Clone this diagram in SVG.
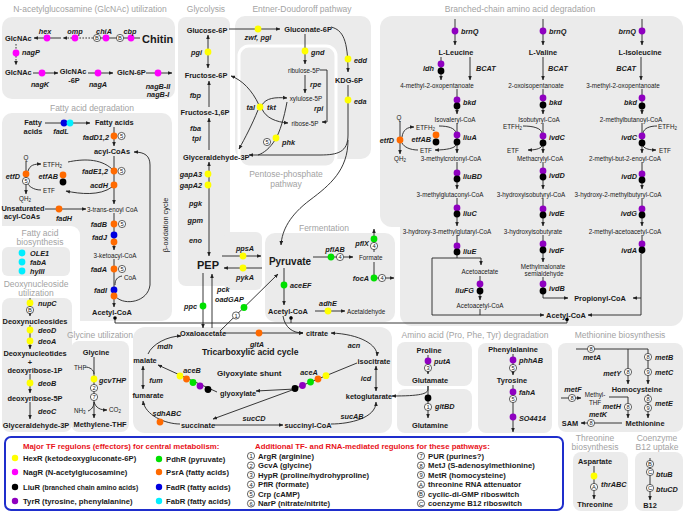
<svg xmlns="http://www.w3.org/2000/svg" width="685" height="513" viewBox="0 0 685 513">
<defs>
<marker id="a" viewBox="0 0 10 10" refX="9" refY="5" markerWidth="4.5" markerHeight="4.5" markerUnits="userSpaceOnUse" orient="auto-start-reverse"><path d="M0,1 L10,5 L0,9 z" fill="#222"/></marker>
</defs>
<style>
text{font-family:"Liberation Sans",Arial,sans-serif;dominant-baseline:central;fill:#1a1a1a}
.p{fill:#ebebeb}
.t{font-size:8.5px;fill:#a3a3a3;text-anchor:middle}
.m{font-size:7.4px;font-weight:bold}
.s{font-size:6.3px}
.g{font-size:7.3px;font-weight:bold;font-style:italic}
.L{font-size:11px;font-weight:bold}
.c{text-anchor:middle}
.e{text-anchor:end}
.ln{fill:none;stroke:#222;stroke-width:0.9}
.ar{marker-end:url(#a)}
.ab{marker-start:url(#a);marker-end:url(#a)}
.dash{stroke-dasharray:1.6 1.4}
.Y{fill:#ffff00}.M{fill:#ff00ff}.K{fill:#000}.P{fill:#8f00c0}.G{fill:#00e000}.O{fill:#ff6a00}.B{fill:#0000e0}.C{fill:#00eeff}
.cn circle{fill:#fff;stroke:#222;stroke-width:0.7}
.cn text{font-size:5.8px;text-anchor:middle}
.lg{font-size:7.7px;font-weight:bold}
.red{font-size:7.8px;font-weight:bold;fill:#e8121a}
</style>

<g id="panels">
<rect class="p" x="2" y="17" width="173" height="82" rx="10"/>
<rect class="p" x="2" y="113" width="170" height="208" rx="10"/>
<rect x="-10" y="226" width="90" height="220" rx="9" fill="#fff"/>
<rect class="p" x="2" y="247" width="68" height="29" rx="6"/>
<rect class="p" x="2" y="298" width="70" height="134" rx="8"/>
<rect class="p" x="178" y="17" width="52" height="269" rx="8"/>
<rect class="p" x="224" y="232" width="38" height="58" rx="6"/>
<rect class="p" x="235" y="16" width="136" height="143" rx="10"/>
<rect class="p" x="239" y="46" width="97" height="121" rx="10" stroke="#fff" stroke-width="3"/>
<rect class="p" x="380" y="16" width="303" height="211" rx="12"/>
<rect class="p" x="400" y="150" width="283" height="176" rx="12"/>
<rect class="p" x="265" y="233" width="130" height="89" rx="10"/>
<rect class="p" x="133" y="327" width="259" height="106" rx="12"/>
<rect class="p" x="71" y="341" width="58" height="91" rx="8"/>
<rect class="p" x="397" y="342" width="75" height="44" rx="8"/>
<rect class="p" x="397" y="389" width="75" height="44" rx="8"/>
<rect class="p" x="478" y="343" width="74" height="90" rx="8"/>
<rect class="p" x="558" y="343" width="125" height="89" rx="8"/>
<rect class="p" x="573" y="452" width="55" height="59" rx="8"/>
<rect class="p" x="635" y="452" width="48" height="59" rx="8"/>
<rect x="5" y="437" width="558" height="73" rx="6" fill="#fff" stroke="#1f2ecc" stroke-width="2"/>
</g>

<g id="titles">
<text class="t" x="90" y="8.5">N-acetylglucosamine (GlcNAc) utilization</text>
<text class="t" x="206" y="8.5">Glycolysis</text>
<text class="t" x="302" y="8.5">Entner-Doudoroff pathway</text>
<text class="t" x="520" y="9">Branched-chain amino acid degradation</text>
<text class="t" x="92" y="108">Fatty acid degradation</text>
<text class="t" x="286" y="174">Pentose-phosphate</text>
<text class="t" x="286" y="184">pathway</text>
<text class="t" x="324" y="228">Fermentation</text>
<text class="t" x="40" y="233">Fatty acid</text>
<text class="t" x="40" y="242">biosynthesis</text>
<text class="t" x="36" y="284">Deoxynucleoside</text>
<text class="t" x="36" y="293">utilization</text>
<text class="t" x="100" y="335">Glycine utilization</text>
<text class="t" x="475" y="335">Amino acid (Pro, Phe, Tyr) degradation</text>
<text class="t" x="620" y="335">Methionine biosynthesis</text>
<text class="t" x="595" y="438">Threonine</text>
<text class="t" x="595" y="447">biosynthesis</text>
<text class="t" x="657" y="438">Coenzyme</text>
<text class="t" x="657" y="447">B12 uptake</text>
</g>

<g id="connectors">
<path class="ln ar" d="M61,38 H34"/>
<path class="ln ar dash" d="M93,38 H63"/>
<path class="ln" d="M140,38 H97"/>
<path class="ln ar dash" d="M16,44 V65"/>
<path class="ln ar" d="M33,73 H58"/>
<path class="ln ar" d="M88,73 H113"/>
<path class="ln ar" d="M146,73 H172"/>
<path class="ln ar" d="M45,123 H90"/>
<path class="ln ar" d="M114,127 V146"/>
<path class="ln ar" d="M114,156 V204"/>
<path class="ln ar" d="M26,161 V194"/>
<path class="ln ar" d="M28,171 C30,165 34,164 41,164"/>
<path class="ln" d="M41,190 C33,190 29,186 27,183"/>
<path class="ln" d="M112,169 C100,158 82,159 68,162"/>
<path class="ln ar" d="M112,187 C100,196 80,194 66,191"/>
<path class="ln ar" d="M45,209 H86"/>
<path class="ln ar" d="M114,213 V250"/>
<path class="ln ar" d="M114,259 V307"/>
<path class="ln" d="M122,276 C117,277 115,280 115,285"/>
<path class="ln ar" d="M116,297 C125,306 148,302 150,285 L150,165 C150,156 145,152 134,152"/>
<path class="ln" d="M115,317 V323 H567 V318"/>
<path class="ln" d="M291,323 V316"/>
<path class="ln ar" d="M30,298 V316"/>
<path class="ln ar" d="M30,325 V349"/>
<path class="ln ar" d="M30,374 V393"/>
<path class="ln ar" d="M30,402 V419"/>
<path class="ln ar" d="M94,357 V418"/>
<path class="ln" d="M85,367 C90,367 94,370 94,374"/>
<path class="ln" d="M94,402 C94,407 91,410 88,411"/>
<path class="ln ar" d="M94,402 C96,408 100,410 107,410"/>
<path class="ln ab" d="M208,35 V68"/>
<path class="ln ar" d="M209,107 V81"/>
<path class="ln ar" d="M209,150 V118"/>
<path class="ln ab" d="M209,162 V256"/>
<path class="ln ar" d="M222,256 H261"/>
<path class="ln ar" d="M262,268 H224"/>
<path class="ln ar" d="M203,273 V328"/>
<path class="ln ar" d="M212,328 V274"/>
<path class="ln ar" d="M220,331 L278,274"/>
<path class="ln ar" d="M229,29 H280"/>
<path class="ln ar" d="M305,34 V64"/>
<path class="ln ar" d="M305,75 V93"/>
<path class="ln ar" d="M320,70 H327 V122 H322"/>
<path class="ln ar" d="M259,105 C252,90 242,80 231,76"/>
<path class="ln ar" d="M262,105 C266,98 275,97 287,98"/>
<path class="ln ar" d="M262,109 C266,118 276,122 288,123"/>
<path class="ln ar" d="M258,110 C252,125 245,138 239,149"/>
<path class="ln" d="M287,102 C284,118 280,132 275,140 C270,148 264,153 258,155"/>
<path class="ln ar" d="M331,27 C343,30 348,40 348,72"/>
<path class="ln ar" d="M348,85 V135 C348,152 338,155 320,155 H249"/>
<path class="ln ar" d="M348,140 C348,170 330,185 310,200 C290,215 282,230 281,245"/>
<path class="ln ar" d="M284,268 V305"/>
<path class="ln ar" d="M313,257 H353"/>
<path class="ln ar" d="M374,252 V229"/>
<path class="ln ar" d="M374,262 V278 H394"/>
<path class="ln ar" d="M315,311 H345"/>
<path class="ln ar" d="M283,316 C285,328 293,333 303,333"/>
<path class="ln ar" d="M224,333 H303"/>
<path class="ln ar" d="M148,354 C152,344 168,336 181,336"/>
<path class="ln ab" d="M143,366 V389"/>
<path class="ln ar" d="M180,424 C165,424 145,415 143,401"/>
<path class="ln ar" d="M214,425 H283"/>
<path class="ln ar" d="M331,424 C350,424 376,418 376,402"/>
<path class="ln ab" d="M376,366 V391"/>
<path class="ln ab" d="M377,356 C378,345 360,334 331,333"/>
<path class="ln ar" d="M217,392 L158,365"/>
<path class="ln" d="M357,363 L296,388"/>
<path class="ln ar" d="M295,389 L256,391"/>
<path class="ln ar" d="M295,389 L213,419"/>
<path class="ln ar" d="M428,355 V374"/>
<path class="ln ar" d="M428,386 V389 C428,394 420,396 392,396"/>
<path class="ln ar" d="M428,386 V418"/>
<path class="ln ar" d="M513,354 V375"/>
<path class="ln ar" d="M513,385 V432"/>
<path class="ln ar" d="M576,349 H648 V384"/>
<path class="ln ar" d="M628,349 V384"/>
<path class="ln ar" d="M561,398 H581"/>
<path class="ln ar" d="M609,397 H628 V418"/>
<path class="ln ar" d="M648,394 V418"/>
<path class="ln ar" d="M622,423 H581"/>
<path class="ln ar" d="M594,466 V499"/>
<path class="ln ar" d="M650,458 V500"/>
<path class="ln ar" d="M455,19 V45"/>
<path class="ln ar" d="M441,57 V80"/>
<path class="ln ar" d="M470,57 V80"/>
<path class="ln ar" d="M457,89 V114"/>
<path class="ln ar" d="M457,123 V153"/>
<path class="ln ar" d="M400,121 V154"/>
<path class="ln ar" d="M402,137 C403,130 407,127 414,127"/>
<path class="ln" d="M418,150 C410,150 404,147 402,143"/>
<path class="ln" d="M439,126 C448,126 455,128 456,133"/>
<path class="ln ar" d="M456,145 C455,148 447,150 435,150"/>
<path class="ln ar" d="M457,162 V189"/>
<path class="ln ar" d="M457,198 V226"/>
<path class="ln" d="M457,235 V258"/>
<path class="ln ar" d="M432,258 H481 V265"/>
<path class="ln ar" d="M432,258 V315 H544"/>
<path class="ln ar" d="M480,276 V300"/>
<path class="ln" d="M480,309 V315"/>
<path class="ln ar" d="M543,19 V45"/>
<path class="ln ar" d="M543,57 V80"/>
<path class="ln ar" d="M543,89 V114"/>
<path class="ln ar" d="M543,123 V153"/>
<path class="ln" d="M523,126 C533,126 541,128 542,133"/>
<path class="ln ar" d="M542,146 C540,149 535,150 528,150"/>
<path class="ln ar" d="M543,162 V189"/>
<path class="ln ar" d="M543,198 V226"/>
<path class="ln ar" d="M543,235 V262"/>
<path class="ln ar" d="M543,277 V298 H568"/>
<path class="ln ar" d="M642,19 V45"/>
<path class="ln ar" d="M641,57 V80"/>
<path class="ln ar" d="M642,89 V114"/>
<path class="ln ar" d="M642,123 V153"/>
<path class="ln" d="M657,126 C650,126 644,128 643,133"/>
<path class="ln ar" d="M643,146 C645,149 650,150 656,150"/>
<path class="ln ar" d="M642,162 V189"/>
<path class="ln ar" d="M642,198 V226"/>
<path class="ln ar" d="M641,254 V315 H588"/>
<path class="ln ar" d="M641,298 H633"/>
<path class="ln" d="M642,235 V254"/>
</g>

<g id="glcnac">
<text class="m" x="5" y="38">GlcNAc</text>
<circle class="M" cx="47" cy="38" r="3.4"/><text class="g c" x="45" y="31">hex</text>
<circle class="M" cx="75" cy="38" r="3.4"/><text class="g c" x="75" y="31">omp</text>
<g class="cn"><circle cx="97" cy="38" r="3.6"/><text x="97" y="38">B</text></g>
<circle class="M" cx="106" cy="38" r="3.4"/><text class="g c" x="104" y="31">chiA</text>
<g class="cn"><circle cx="120" cy="38" r="3.6"/><text x="120" y="38">B</text></g>
<circle class="M" cx="131" cy="38" r="3.4"/><text class="g c" x="130" y="31">cbp</text>
<text x="142" y="39" font-size="11" font-weight="bold">Chitin</text>
<circle class="M" cx="16" cy="53" r="3.4"/><text class="g" x="22" y="52">nagP</text>
<text class="m" x="5" y="72">GlcNAc</text>
<circle class="M" cx="42" cy="73" r="3.4"/><text class="g c" x="40" y="84">nagK</text>
<text class="m c" x="73" y="71">GlcNAc</text><text class="m c" x="74" y="80">-6P</text>
<circle class="M" cx="98" cy="73" r="3.4"/><text class="g c" x="98" y="84">nagA</text>
<text class="m" x="117" y="72">GlcN-6P</text>
<circle class="M" cx="158" cy="73" r="3.4"/><text class="g c" x="158" y="86">nagB-II</text><text class="g c" x="158" y="94">nagB-I</text>
</g>

<g id="fatty-acid-degradation">
<text class="m c" x="33" y="122">Fatty</text><text class="m c" x="33" y="131">acids</text>
<circle class="B" cx="64" cy="123" r="3.4"/><circle class="C" cx="70" cy="123" r="3.4"/>
<text class="g c" x="61" y="131">fadL</text>
<text class="m" x="95" y="122">Fatty acids</text>
<text class="g e" x="109" y="137">fadD1,2</text>
<circle class="O" cx="114" cy="136" r="3.4"/>
<g class="cn"><circle cx="121.5" cy="136" r="3.6"/><text x="121.5" y="136">5</text></g>
<text class="m c" x="112" y="151">acyl-CoAs</text>
<text class="s c" x="26" y="157">Q</text>
<circle class="O" cx="26" cy="174" r="3.4"/>
<g class="cn"><circle cx="26" cy="181" r="3.6"/><text x="26" y="181">5</text></g>
<text class="g e" x="20" y="176">etfD</text>
<text class="s c" x="25" y="198">QH<tspan font-size="4.5" dy="1.5">2</tspan></text>
<text class="s" x="43" y="164" font-size="6.6">ETFH<tspan font-size="4.5" dy="1.5">2</tspan></text>
<text class="s" x="43" y="190" font-size="6.6">ETF</text>
<circle class="O" cx="63" cy="175" r="3.4"/><circle class="K" cx="63" cy="182" r="3.4"/>
<text class="g e" x="58" y="176">etfAB</text>
<circle class="O" cx="114" cy="171" r="3.4"/>
<g class="cn"><circle cx="121.5" cy="171" r="3.6"/><text x="121.5" y="171">5</text></g>
<text class="g e" x="108" y="171">fadE1,2</text>
<circle class="O" cx="114" cy="185" r="3.4"/><text class="g e" x="108" y="185">acdH</text>
<text class="m c" x="23" y="208">Unsaturated</text><text class="m c" x="22" y="216">acyl-CoAs</text>
<circle class="O" cx="59" cy="209" r="3.4"/><text class="g c" x="64" y="218">fadH</text>
<text class="s" x="87" y="209">3-trans-enoyl CoA</text>
<circle class="O" cx="114" cy="224" r="3.4"/>
<g class="cn"><circle cx="122" cy="224" r="3.6"/><text x="122" y="224">5</text></g>
<text class="g e" x="107" y="224">fadB</text>
<circle class="B" cx="114" cy="235" r="3.4"/><circle class="O" cx="114" cy="242" r="3.4"/>
<text class="g e" x="107" y="237">fadJ</text>
<text class="s c" x="115" y="255">3-ketoacyl-CoA</text>
<circle class="O" cx="114" cy="269" r="3.4"/>
<g class="cn"><circle cx="122" cy="269" r="3.6"/><text x="122" y="269">5</text></g>
<text class="g e" x="107" y="269">fadA</text>
<text class="s" x="124" y="277" font-size="6.6">CoA</text>
<circle class="B" cx="114" cy="290" r="3.4"/><circle class="O" cx="114" cy="296" r="3.4"/>
<text class="g e" x="107" y="290">fadI</text>
<text class="m c" x="112" y="312">Acetyl-CoA</text>
<circle class="K" cx="115" cy="318" r="1.8"/>
<text x="165" y="225" font-size="7.3" text-anchor="middle" transform="rotate(-90 165 225)">β-oxidation cycle</text>
</g>

<g id="fatty-acid-biosynthesis">
<circle class="C" cx="22" cy="253" r="3.4"/><text class="g" x="30" y="253">OLE1</text>
<circle class="C" cx="22" cy="262" r="3.4"/><text class="g" x="30" y="262">fabA</text>
<circle class="C" cx="22" cy="271" r="3.4"/><text class="g" x="30" y="271">hyIII</text>
</g>

<g id="deoxynucleoside">
<circle class="Y" cx="30" cy="303" r="3.4"/><text class="g" x="38" y="303">nupC</text>
<g class="cn"><circle cx="30" cy="310" r="3.6"/><text x="30" y="310">B</text></g>
<text class="m c" x="35" y="321" font-size="6.3">Deoxynucleosides</text>
<circle class="Y" cx="30" cy="330" r="3.4"/><text class="g" x="38" y="330">deoD</text>
<circle class="Y" cx="30" cy="341" r="3.4"/><text class="g" x="38" y="341">deoA</text>
<text class="m c" x="35" y="353.5" font-size="6.3">Deoxynucleotides</text>
<text class="m c" x="30" y="362" font-size="6">+</text>
<text class="m c" x="35" y="370.5" font-size="6.3">deoxyribose-1P</text>
<circle class="Y" cx="30" cy="383" r="3.4"/><text class="g" x="38" y="383">deoB</text>
<text class="m c" x="35" y="398" font-size="6.3">deoxyribose-5P</text>
<text class="g" x="38" y="411">deoC</text>
<text class="m c" x="36" y="425" font-size="6.3">Glyceraldehyde-3P</text>
</g>

<g id="glycine">
<text class="m c" x="96" y="352">Glycine</text>
<text class="s" x="74" y="367">THF</text>
<circle class="Y" cx="94" cy="379" r="3.4"/><text class="g" x="99" y="380">gcvTHP</text>
<g class="cn"><circle cx="94" cy="388" r="3.6"/><text x="94" y="388">2</text></g>
<g class="cn"><circle cx="94" cy="397" r="3.6"/><text x="94" y="397">7</text></g>
<text class="s" x="74" y="410">NH<tspan font-size="4.5" dy="1.5">3</tspan></text>
<text class="s" x="109" y="409">CO<tspan font-size="4.5" dy="1.5">2</tspan></text>
<text class="m c" x="100" y="424" font-size="7">Methylene-THF</text>
</g>

<g id="glycolysis">
<text class="m c" x="207" y="30" font-size="7">Glucose-6P</text>
<circle class="Y" cx="208" cy="52" r="3.4"/><text class="g e" x="202" y="52">pgi</text>
<text class="m c" x="206" y="75" font-size="7">Fructose-6P</text>
<text class="g e" x="201" y="95">fbp</text>
<text class="m c" x="205" y="112" font-size="7">Fructose-1,6P</text>
<text class="g e" x="201" y="128">fba</text><text class="g e" x="201" y="138">tpi</text>
<text class="m" x="183" y="157" font-size="7">Glyceraldehyde-3P</text>
<circle class="Y" cx="208" cy="174" r="3.4"/><text class="g e" x="202" y="174">gapA3</text>
<circle class="Y" cx="208" cy="185" r="3.4"/><text class="g e" x="202" y="185">gapA2</text>
<text class="g e" x="202" y="203">pgk</text>
<text class="g e" x="203" y="220">gpm</text>
<text class="g e" x="202" y="240">eno</text>
<text class="L c" x="208" y="265">PEP</text>
<circle class="Y" cx="243" cy="256" r="3.4"/><text class="g c" x="245" y="248">ppsA</text>
<circle class="Y" cx="243" cy="268" r="3.4"/><text class="g c" x="245" y="277">pykA</text>
<circle class="G" cx="203" cy="306" r="3.4"/><text class="g e" x="197" y="306">ppc</text>
<text class="g" x="217" y="289">pck</text>
<text class="g" x="215" y="299">oadGAP</text>
<circle class="G" cx="244" cy="307.5" r="3.4"/>
<g class="cn"><circle cx="236" cy="315.5" r="3.6"/><text x="236" y="315.5">1</text></g>
</g>

<g id="entner-doudoroff">
<circle class="Y" cx="258" cy="29" r="3.4"/><text class="g c" x="258" y="37">zwf, pgl</text>
<text class="m c" x="308" y="29" font-size="7">Gluconate-6P</text>
<circle class="Y" cx="305" cy="51" r="3.4"/><text class="g" x="311" y="52">gnd</text>
<text class="s c" x="304" y="70">ribulose-5P</text>
<text class="g" x="310" y="84">rpe</text>
<text class="s c" x="306" y="98">xylulose-5P</text>
<text class="g" x="314" y="108">rpi</text>
<text class="s c" x="305" y="123">ribose-5P</text>
<circle class="Y" cx="260" cy="107" r="3.4"/>
<text class="g e" x="255" y="107">tal</text><text class="g" x="267" y="107">tkt</text>
<circle class="Y" cx="276" cy="138" r="3.4"/>
<g class="cn"><circle cx="267" cy="142" r="3.6"/><text x="267" y="142">5</text></g>
<text class="g" x="282" y="142">phk</text>
<circle class="Y" cx="348" cy="59" r="3.4"/><text class="g" x="354" y="60">edd</text>
<text class="m c" x="349" y="80" font-size="7">KDG-6P</text>
<circle class="Y" cx="348" cy="100" r="3.4"/><text class="g" x="354" y="101">eda</text>
</g>

<g id="fermentation">
<text class="c" x="290" y="261" font-size="10" font-weight="bold">Pyruvate</text>
<circle class="G" cx="284" cy="285" r="3.4"/><text class="g" x="290" y="285">aceEF</text>
<text class="m c" x="288" y="311" font-size="8">Acetyl-CoA</text>
<circle class="K" cx="291" cy="318" r="1.8"/>
<circle class="G" cx="331" cy="257" r="3.4"/>
<g class="cn"><circle cx="340" cy="257" r="3.6"/><text x="340" y="257">4</text></g>
<text class="g c" x="335" y="249">pflAB</text>
<text class="s" x="359" y="257" font-size="6.6">Formate</text>
<circle class="G" cx="374" cy="239" r="3.4"/>
<g class="cn"><circle cx="374" cy="246" r="3.6"/><text x="374" y="246">4</text></g>
<text class="g e" x="369" y="243">pflX</text>
<circle class="G" cx="374" cy="278" r="3.4"/>
<g class="cn"><circle cx="382" cy="278" r="3.6"/><text x="382" y="278">4</text></g>
<text class="g e" x="369" y="278">focA</text>
<circle class="Y" cx="328" cy="311" r="3.4"/><text class="g c" x="328" y="303">adhE</text>
<text class="s" x="347" y="311" font-size="6.6">Acetaldehyde</text>
</g>

<g id="tca">
<text class="m c" x="203" y="333" font-size="6.8">Oxaloacetate</text>
<circle class="O" cx="259" cy="333" r="3.4"/><text class="g c" x="257" y="344">gltA</text>
<text class="m c" x="317" y="333" font-size="6.8">citrate</text>
<text x="202" y="352" font-size="8.6" font-weight="bold">Tricarboxylic acid cycle</text>
<text class="g c" x="165" y="346">mdh</text>
<text class="m c" x="145" y="360" font-size="6.8">malate</text>
<text class="g c" x="156" y="380">fum</text>
<text class="m c" x="148" y="395" font-size="6.8">fumarate</text>
<circle class="O" cx="160" cy="422" r="3.4"/><text class="g c" x="167" y="413">sdhABC</text>
<text class="m c" x="198" y="425" font-size="6.8">succinate</text>
<text class="g c" x="254" y="418">sucCD</text>
<text class="m c" x="308" y="425" font-size="6.8">succinyl-CoA</text>
<text class="g c" x="352" y="416">sucAB</text>
<text class="m c" x="369" y="396" font-size="6.8">ketoglutarate</text>
<text class="g c" x="366" y="378">icd</text>
<text class="m c" x="374" y="361" font-size="6.8">isocitrate</text>
<text class="g c" x="354" y="345">acn</text>
<circle class="Y" cx="180" cy="376" r="3.4"/><circle class="O" cx="186.5" cy="379" r="3.4"/><circle class="G" cx="193" cy="382.5" r="3.4"/><circle class="P" cx="200" cy="386" r="3.4"/><circle class="K" cx="208" cy="389.5" r="3.4"/>
<text class="g c" x="192" y="370">aceB</text>
<text class="m" x="220" y="393" font-size="6.8">glyoxylate</text>
<text x="217" y="373" font-size="8" font-weight="bold">Glyoxylate shunt</text>
<circle class="Y" cx="326" cy="375.7" r="3.4"/><circle class="O" cx="318" cy="379" r="3.4"/><circle class="G" cx="310.5" cy="382" r="3.4"/><circle class="P" cx="302.5" cy="385.5" r="3.4"/><circle class="K" cx="295" cy="388.5" r="3.4"/>
<text class="g c" x="309" y="372">aceA</text>
</g>

<g id="amino-acids">
<text class="m c" x="429" y="350">Proline</text>
<circle class="P" cx="428" cy="361" r="3.4"/><text class="g" x="434" y="361">putA</text>
<g class="cn"><circle cx="428" cy="368" r="3.6"/><text x="428" y="368">3</text></g>
<text class="m c" x="430" y="380" font-size="7">Glutamate</text>
<circle class="K" cx="428" cy="398" r="3.4"/>
<g class="cn"><circle cx="428" cy="407" r="3.6"/><text x="428" y="407">1</text></g>
<text class="g" x="435" y="406">gltBD</text>
<text class="m c" x="430" y="425" font-size="7">Glutamine</text>
<text class="m c" x="513" y="349">Phenylalanine</text>
<circle class="P" cx="513" cy="360" r="3.4"/><text class="g" x="519" y="360">phhAB</text>
<g class="cn"><circle cx="513" cy="368" r="3.6"/><text x="513" y="368">5</text></g>
<text class="m c" x="512" y="380">Tyrosine</text>
<circle class="P" cx="513" cy="392" r="3.4"/><text class="g" x="519" y="392">fahA</text>
<g class="cn"><circle cx="513" cy="399" r="3.6"/><text x="513" y="399">5</text></g>
<circle class="P" cx="513" cy="417" r="3.4"/><text class="g" x="519" y="418">SO4414</text>
</g>

<g id="methionine">
<g class="cn"><circle cx="591" cy="349" r="3.6"/><text x="591" y="349">8</text></g>
<text class="g c" x="592" y="357">metA</text>
<g class="cn"><circle cx="648" cy="357" r="3.6"/><text x="648" y="357">8</text></g>
<text class="g" x="655" y="357">metB</text>
<g class="cn"><circle cx="648" cy="372" r="3.6"/><text x="648" y="372">9</text></g>
<text class="g" x="655" y="372">metC</text>
<g class="cn"><circle cx="628" cy="372" r="3.6"/><text x="628" y="372">8</text></g>
<text class="g e" x="621" y="373">metY</text>
<text class="m c" x="637" y="389">Homocysteine</text>
<g class="cn"><circle cx="572" cy="398" r="3.6"/><text x="572" y="398">8</text></g>
<text class="g c" x="573" y="389">metF</text>
<text class="s c" x="595" y="394" font-size="5.8">Methyl-</text>
<text class="s c" x="595" y="402" font-size="5.8">THF</text>
<g class="cn"><circle cx="628" cy="407" r="3.6"/><text x="628" y="407">8</text></g>
<text class="g e" x="621" y="406">metH</text>
<g class="cn"><circle cx="648" cy="399" r="3.6"/><text x="648" y="399">8</text></g>
<g class="cn"><circle cx="648" cy="408" r="3.6"/><text x="648" y="408">9</text></g>
<text class="g" x="655" y="403">metE</text>
<text class="m c" x="645" y="423">Methionine</text>
<g class="cn"><circle cx="591" cy="423" r="3.6"/><text x="591" y="423">8</text></g>
<text class="g c" x="598" y="414">metK</text>
<text class="m c" x="570" y="423">SAM</text>
</g>

<g id="threonine">
<text class="m c" x="595" y="461" font-size="7">Aspartate</text>
<circle class="Y" cx="594" cy="476" r="3.4"/>
<g class="cn"><circle cx="594" cy="487" r="3.6"/><text x="594" y="487">A</text></g>
<text class="g" x="601" y="484" font-size="6.5">thrABC</text>
<text class="m c" x="595" y="504" font-size="7">Threonine</text>
</g>

<g id="b12">
<g class="cn"><circle cx="650" cy="464" r="3.6"/><text x="650" y="464">B</text></g>
<g class="cn"><circle cx="650" cy="472" r="3.6"/><text x="650" y="472">C</text></g>
<text class="g" x="656" y="474" font-size="6.5">btuB</text>
<g class="cn"><circle cx="650" cy="488" r="3.6"/><text x="650" y="488">C</text></g>
<text class="g" x="656" y="489" font-size="6.5">btuCD</text>
<text class="m c" x="650" y="505" font-size="7">B12</text>
</g>

<g id="bcaa-leucine">
<circle class="P" cx="455" cy="31" r="3.4"/><text class="g" x="461" y="31">brnQ</text>
<text class="m c" x="456" y="52">L-Leucine</text>
<circle class="P" cx="441" cy="64" r="3.4"/><circle class="K" cx="441" cy="71" r="3.4"/><text class="g e" x="434" y="68">ldh</text>
<text class="g" x="476" y="68">BCAT</text>
<text class="s c" x="437" y="85">4-methyl-2-oxopentanoate</text>
<circle class="P" cx="457" cy="100" r="3.4"/><circle class="K" cx="457" cy="106" r="3.4"/><text class="g" x="463" y="102">bkd</text>
<text class="s c" x="455" y="119">Isovaleryl-CoA</text>
<text class="s c" x="399" y="117" font-size="6.6">Q</text>
<circle class="O" cx="400" cy="140" r="3.4"/><text class="g e" x="394" y="140">etfD</text>
<text class="s c" x="400" y="158" font-size="6.6">QH<tspan font-size="4.5" dy="1.5">2</tspan></text>
<text class="s" x="416" y="127" font-size="6.6">ETFH<tspan font-size="4.5" dy="1.5">2</tspan></text>
<text class="s" x="420" y="150" font-size="6.6">ETF</text>
<circle class="O" cx="436" cy="135" r="3.4"/><circle class="K" cx="436" cy="142" r="3.4"/><text class="g e" x="431" y="139">etfAB</text>
<circle class="P" cx="457" cy="135" r="3.4"/><circle class="K" cx="457" cy="142" r="3.4"/><text class="g" x="463" y="137">liuA</text>
<text class="s c" x="451" y="158">3-methylcrotonyl-CoA</text>
<circle class="P" cx="457" cy="173" r="3.4"/><circle class="K" cx="457" cy="179" r="3.4"/><text class="g" x="463" y="176">liuBD</text>
<text class="s c" x="450" y="194">3-methylglutaconyl-CoA</text>
<circle class="P" cx="457" cy="208" r="3.4"/><circle class="K" cx="457" cy="214" r="3.4"/><text class="g" x="463" y="213">liuC</text>
<text class="s c" x="447" y="231">3-hydroxy-3-methylglutaryl-CoA</text>
<circle class="P" cx="457" cy="246" r="3.4"/><circle class="K" cx="457" cy="252" r="3.4"/><text class="g" x="463" y="251">liuE</text>
<text class="s c" x="480" y="271">Acetoacetate</text>
<circle class="P" cx="480" cy="284" r="3.4"/><circle class="K" cx="480" cy="291" r="3.4"/><text class="g e" x="474" y="290">liuFG</text>
<text class="s c" x="480" y="305">Acetoacetyl-CoA</text>
</g>

<g id="bcaa-valine">
<circle class="P" cx="543" cy="31" r="3.4"/><text class="g" x="549" y="31">brnQ</text>
<text class="m c" x="543" y="52">L-Valine</text>
<text class="g" x="548" y="68">BCAT</text>
<text class="s c" x="536" y="85">2-oxoisopentanoate</text>
<circle class="P" cx="543" cy="98" r="3.4"/><circle class="K" cx="543" cy="105" r="3.4"/><text class="g" x="549" y="102">bkd</text>
<text class="s c" x="539" y="119">Isobutyryl-CoA</text>
<text class="s" x="503" y="126" font-size="6.6">ETFH<tspan font-size="4.5" dy="1.5">2</tspan></text>
<text class="s" x="507" y="150" font-size="6.6">ETF</text>
<circle class="P" cx="543" cy="136" r="3.4"/><circle class="K" cx="543" cy="143" r="3.4"/><text class="g" x="549" y="137">ivdC</text>
<text class="s c" x="540" y="158">Methacrylyl-CoA</text>
<circle class="P" cx="543" cy="171" r="3.4"/><circle class="K" cx="543" cy="177" r="3.4"/><text class="g" x="549" y="175">ivdD</text>
<text class="s c" x="531" y="194">3-hydroxyisobutyryl-CoA</text>
<circle class="P" cx="543" cy="209" r="3.4"/><circle class="K" cx="543" cy="215" r="3.4"/><text class="g" x="549" y="213">ivdE</text>
<text class="s c" x="533" y="231">3-hydroxyisobutyrate</text>
<circle class="P" cx="543" cy="244" r="3.4"/><circle class="K" cx="543" cy="250" r="3.4"/><text class="g" x="549" y="250">ivdF</text>
<text class="s c" x="543" y="266">Methylmalonate</text>
<text class="s c" x="544" y="273">semialdehyde</text>
<circle class="P" cx="543" cy="284" r="3.4"/><circle class="K" cx="543" cy="291" r="3.4"/><text class="g" x="549" y="288">ivdB</text>
<text class="m c" x="600" y="298" font-size="7.8">Propionyl-CoA</text>
<text class="m c" x="566" y="315">Acetyl-CoA</text>
<circle class="K" cx="567" cy="319.5" r="1.8"/>
</g>

<g id="bcaa-isoleucine">
<circle class="P" cx="642" cy="31" r="3.4"/><text class="g e" x="636" y="31">brnQ</text>
<text class="m c" x="640" y="52">L-Isoleucine</text>
<text class="g e" x="636" y="68">BCAT</text>
<text class="s c" x="623" y="85">3-methyl-2-oxopentanoate</text>
<circle class="P" cx="642" cy="98" r="3.4"/><circle class="K" cx="642" cy="106" r="3.4"/><text class="g e" x="637" y="102">bkd</text>
<text class="s c" x="631" y="119">2-methylbutanoyl-CoA</text>
<text class="s" x="658" y="126" font-size="6.6">ETFH<tspan font-size="4.5" dy="1.5">2</tspan></text>
<text class="s" x="659" y="150" font-size="6.6">ETF</text>
<circle class="P" cx="642" cy="136" r="3.4"/><circle class="K" cx="642" cy="143" r="3.4"/><text class="g e" x="637" y="137">ivdC</text>
<text class="s c" x="625" y="158">2-methyl-but-2-enoyl-CoA</text>
<circle class="P" cx="642" cy="174" r="3.4"/><circle class="K" cx="642" cy="180" r="3.4"/><text class="g e" x="637" y="176">ivdD</text>
<text class="s c" x="618" y="194">3-hydroxy-2-methylbutyryl-CoA</text>
<circle class="P" cx="642" cy="209" r="3.4"/><circle class="K" cx="642" cy="215" r="3.4"/><text class="g e" x="637" y="213">ivdG</text>
<text class="s c" x="625" y="231">2-methyl-acetoacetyl-CoA</text>
<circle class="P" cx="642" cy="244" r="3.4"/><circle class="K" cx="642" cy="250" r="3.4"/><text class="g e" x="637" y="250">ivdA</text>
</g>

<g id="legend">
<text class="red" x="23" y="446">Major TF regulons (effectors) for central metabolism:</text>
<circle class="Y" cx="15" cy="458" r="3.2"/><text class="lg" x="23" y="458">HexR (ketodeoxygluconate-6P)</text>
<circle class="M" cx="15" cy="472" r="3.2"/><text class="lg" x="23" y="472">NagR (N-acetylglucosamine)</text>
<circle class="K" cx="15" cy="487" r="3.2"/><text class="lg" x="23" y="487">LiuR <tspan font-size="6.8">(branched chain amino acids)</tspan></text>
<circle class="P" cx="15" cy="501" r="3.2"/><text class="lg" x="23" y="501">TyrR (tyrosine, phenylalanine)</text>
<circle class="G" cx="159" cy="459" r="3.2"/><text class="lg" x="166" y="459">PdhR (pyruvate)</text>
<circle class="O" cx="159" cy="472" r="3.2"/><text class="lg" x="166" y="472">PsrA (fatty acids)</text>
<circle class="B" cx="159" cy="487" r="3.2"/><text class="lg" x="166" y="487">FadR (fatty acids)</text>
<circle class="C" cx="159" cy="501" r="3.2"/><text class="lg" x="166" y="501">FabR (fatty acids)</text>
<text class="red" x="255" y="446">Additional TF- and RNA-mediated regulons for these pathways:</text>
<g class="cn"><circle cx="251" cy="456" r="3.6"/><text x="251" y="456">1</text></g><text class="lg" x="258" y="456">ArgR  (arginine)</text>
<g class="cn"><circle cx="251" cy="465.5" r="3.6"/><text x="251" y="465.5">2</text></g><text class="lg" x="258" y="465.5">GcvA (glycine)</text>
<g class="cn"><circle cx="251" cy="475" r="3.6"/><text x="251" y="475">3</text></g><text class="lg" x="258" y="475">HypR (proline/hydrohyproline)</text>
<g class="cn"><circle cx="251" cy="484.5" r="3.6"/><text x="251" y="484.5">4</text></g><text class="lg" x="258" y="484.5">PflR (formate)</text>
<g class="cn"><circle cx="251" cy="494" r="3.6"/><text x="251" y="494">5</text></g><text class="lg" x="258" y="494">Crp (cAMP)</text>
<g class="cn"><circle cx="251" cy="503.5" r="3.6"/><text x="251" y="503.5">6</text></g><text class="lg" x="258" y="503.5">NarP (nitrate/nitrite)</text>
<g class="cn"><circle cx="421" cy="456" r="3.6"/><text x="421" y="456">7</text></g><text class="lg" x="428" y="456">PUR (purines?)</text>
<g class="cn"><circle cx="421" cy="465.5" r="3.6"/><text x="421" y="465.5">8</text></g><text class="lg" x="428" y="465.5">MetJ (S-adenosylmethionine)</text>
<g class="cn"><circle cx="421" cy="475" r="3.6"/><text x="421" y="475">9</text></g><text class="lg" x="428" y="475">MetR (homocysteine)</text>
<g class="cn"><circle cx="421" cy="484.5" r="3.6"/><text x="421" y="484.5">A</text></g><text class="lg" x="428" y="484.5">threonine RNA attenuator</text>
<g class="cn"><circle cx="421" cy="494" r="3.6"/><text x="421" y="494">B</text></g><text class="lg" x="428" y="494">cyclic-di-GMP riboswitch</text>
<g class="cn"><circle cx="421" cy="503.5" r="3.6"/><text x="421" y="503.5">C</text></g><text class="lg" x="428" y="503.5">coenzyme B12 riboswitch</text>
</g>
</svg>
